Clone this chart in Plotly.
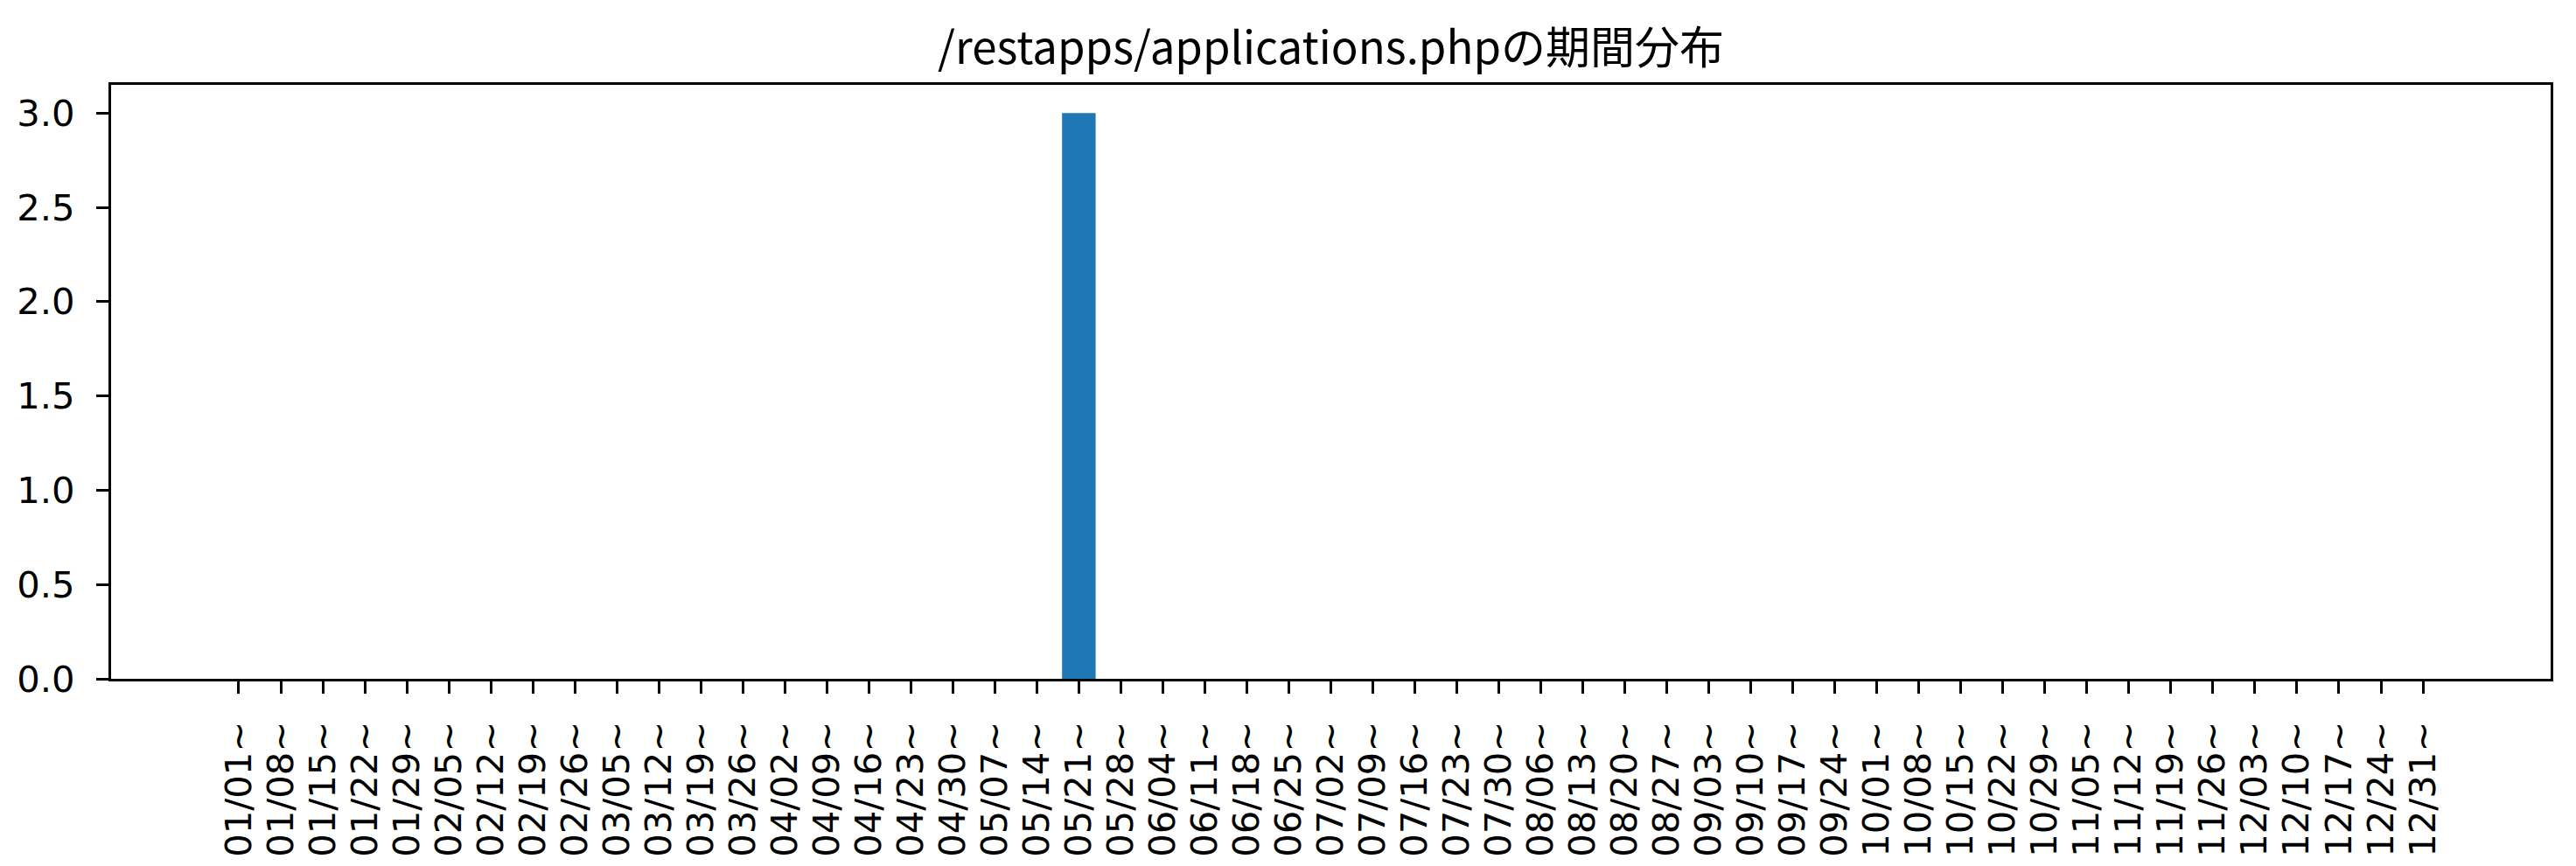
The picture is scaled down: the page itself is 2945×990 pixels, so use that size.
import plotly.graph_objects as go

week_labels = [
    "01/01~", "01/08~", "01/15~", "01/22~", "01/29~", "02/05~", "02/12~", "02/19~", "02/26~",
    "03/05~", "03/12~", "03/19~", "03/26~", "04/02~", "04/09~", "04/16~", "04/23~", "04/30~",
    "05/07~", "05/14~", "05/21~", "05/28~", "06/04~", "06/11~", "06/18~", "06/25~", "07/02~",
    "07/09~", "07/16~", "07/23~", "07/30~", "08/06~", "08/13~", "08/20~", "08/27~", "09/03~",
    "09/10~", "09/17~", "09/24~", "10/01~", "10/08~", "10/15~", "10/22~", "10/29~", "11/05~",
    "11/12~", "11/19~", "11/26~", "12/03~", "12/10~", "12/17~", "12/24~", "12/31~",
]
counts = [
    0, 0, 0, 0, 0, 0, 0, 0, 0,
    0, 0, 0, 0, 0, 0, 0, 0, 0,
    0, 0, 3, 0, 0, 0, 0, 0, 0,
    0, 0, 0, 0, 0, 0, 0, 0, 0,
    0, 0, 0, 0, 0, 0, 0, 0, 0,
    0, 0, 0, 0, 0, 0, 0, 0,
]
y_ticks = [0.0, 0.5, 1.0, 1.5, 2.0, 2.5, 3.0]
title_text = "/restapps/applications.phpの期間分布"

positions = list(range(len(week_labels)))

fig = go.Figure(
    go.Bar(
        x=positions,
        y=counts,
        width=0.8,
        marker=dict(color="#1f77b4", line=dict(width=0)),
    )
)

fig.update_layout(
    width=2945,
    height=990,
    margin=dict(l=127, r=29, t=97, b=214, autoexpand=False),
    paper_bgcolor="white",
    plot_bgcolor="white",
    showlegend=False,
    title=dict(
        text=title_text,
        x=0.5,
        xanchor="center",
        xref="paper",
        y=1 - 55 / 990,
        yanchor="middle",
        yref="container",
        automargin=False,
        font=dict(family="Noto Sans CJK JP", size=51, color="black"),
    ),
)

fig.update_xaxes(
    range=[-3.04, 55.04],
    tickmode="array",
    tickvals=positions,
    ticktext=week_labels,
    tickangle=-90,
    ticks="outside",
    ticklen=14,
    tickwidth=3,
    tickcolor="black",
    showline=True,
    linecolor="black",
    linewidth=3,
    mirror=True,
    showgrid=False,
    zeroline=False,
    automargin=False,
    ticklabelstandoff=15,
    tickfont=dict(family="DejaVu Sans", size=41.7, color="black"),
)

fig.update_yaxes(
    range=[0, 3.15],
    tickmode="array",
    tickvals=y_ticks,
    ticktext=[f"{v:.1f}" for v in y_ticks],
    ticks="outside",
    ticklen=14,
    tickwidth=3,
    tickcolor="black",
    showline=True,
    linecolor="black",
    linewidth=3,
    mirror=True,
    showgrid=False,
    zeroline=False,
    automargin=False,
    ticklabelstandoff=16,
    tickfont=dict(family="DejaVu Sans", size=41.7, color="black"),
)

fig.write_html(
    "out.html",
    config={"displayModeBar": False},
    post_script="document.body.style.margin='0px';document.body.style.overflow='hidden';",
)
